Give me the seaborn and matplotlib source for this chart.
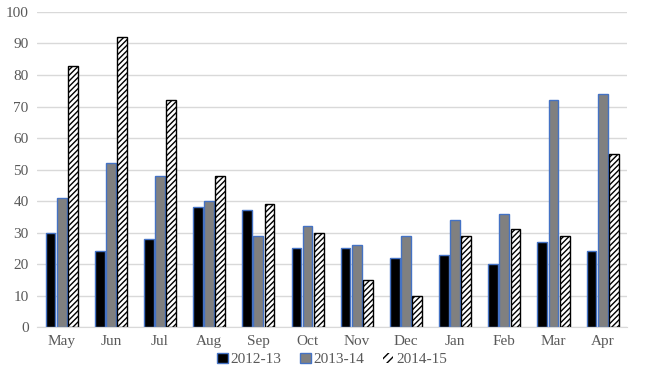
import pandas as pd
import numpy as np
import matplotlib
matplotlib.use("Agg")
import matplotlib.pyplot as plt
import seaborn as sns

months = ['May', 'Jun', 'Jul', 'Aug', 'Sep', 'Oct', 'Nov', 'Dec', 'Jan', 'Feb', 'Mar', 'Apr']
s_2012 = [30, 24, 28, 38, 37, 25, 25, 22, 23, 20, 27, 24]
s_2013 = [41, 52, 48, 40, 29, 32, 26, 29, 34, 36, 72, 74]
s_2014 = [83, 92, 72, 48, 39, 30, 15, 10, 29, 31, 29, 55]
series = ['2012-13', '2013-14', '2014-15']

df = pd.DataFrame({'month': months * 3,
                   'value': s_2012 + s_2013 + s_2014,
                   'series': [s for s in series for _ in months]})

sns.set_style('white')
plt.rcParams['font.family'] = ['Liberation Serif', 'DejaVu Serif']
plt.rcParams['hatch.linewidth'] = 1.0

fig = plt.figure(figsize=(6.5, 3.87), dpi=100)
ax = fig.add_axes([0.057, 0.155, 0.908, 0.814])

sns.barplot(data=df, x='month', y='value', hue='series', order=months,
            hue_order=series, palette=['black', '#808080', 'white'],
            width=0.68, gap=0.12, ax=ax, legend=True)

edges = ['#4472c4', '#4472c4', 'black']
hatches = [None, None, '//////']
for cont, ec, h in zip(ax.containers, edges, hatches):
    for bar in cont:
        bar.set_edgecolor(ec)
        bar.set_linewidth(1.0)
        if h:
            bar.set_hatch(h)

ax.set_ylim(0, 100)
ax.set_yticks(range(0, 101, 10))
ax.yaxis.grid(True, color='#d9d9d9', linewidth=1)
ax.set_axisbelow(True)
for s in ['top', 'right', 'left']:
    ax.spines[s].set_visible(False)
ax.spines['bottom'].set_color('#d9d9d9')
ax.tick_params(axis='both', length=0, labelsize=11, colors='#595959', pad=6)
ax.set_xlabel('')
ax.set_ylabel('')

handles, labels = ax.get_legend_handles_labels()
for hd, ec, h in zip(handles, edges, hatches):
    hd.set_edgecolor(ec)
    if h:
        hd.set_hatch('////')
        hd.set_edgecolor('black')
        hd.set_linewidth(0)
ax.legend(handles, labels, loc='upper center', bbox_to_anchor=(0.5, -0.038),
          ncol=3, frameon=False, fontsize=11, handlelength=0.7, handleheight=0.7,
          handletextpad=0.2, columnspacing=1.2, labelcolor='#595959')

fig.savefig('out.png', dpi=100)
